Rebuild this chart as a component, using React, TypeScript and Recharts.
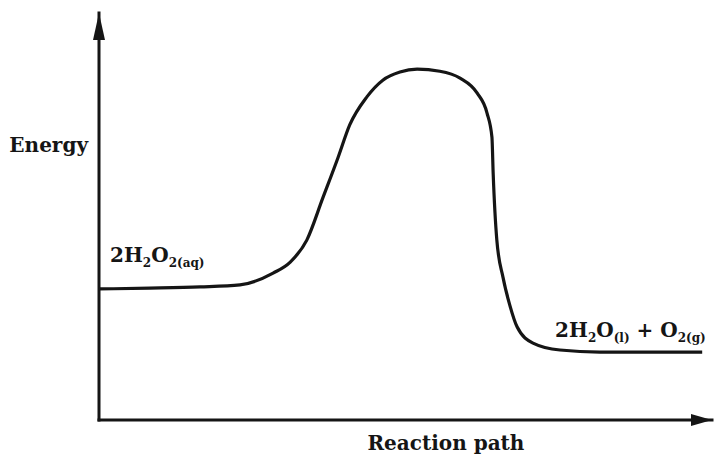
import { LineChart, Line, XAxis, YAxis, ReferenceDot, ReferenceLine } from "recharts";

// reaction progress (0-100) and energy (0-100)
const pathX = [
  0, 8.3, 16.5, 23.0, 28.4, 31.2, 33.9, 36.5, 39.0, 40.9, 43.7, 46.3,
  49.1, 51.9, 55.6, 58.9, 61.7, 63.3, 64.1, 64.3, 64.9, 65.9, 67.0, 68.2,
  70.8, 75.2, 81.7, 98.4,
];
const energyY = [
  32.2, 32.4, 32.7, 33.2, 36.1, 38.8, 44.2, 54.5, 64.5, 72.5, 79.4,
  83.5, 85.5, 86.2, 85.7, 84.0, 80.3, 75.4, 69.5, 60.7, 44.2, 35.1, 28.3,
  22.9, 18.9, 17.2, 16.7, 16.7,
];

const data = pathX.map((x, i) => ({ x, energy: energyY[i] }));

const INK = "#151515";
const FONT = "'DejaVu Serif', 'Liberation Serif', serif";

type Part = { t: string; sub?: boolean };

const reactant: Part[] = [
  { t: "2H" },
  { t: "2", sub: true },
  { t: "O" },
  { t: "2(aq)", sub: true },
];
const products: Part[] = [
  { t: "2H" },
  { t: "2", sub: true },
  { t: "O" },
  { t: "(l)", sub: true },
  { t: " + O" },
  { t: "2(g)", sub: true },
];

const Formula = ({ cx, cy, parts }: { cx?: number; cy?: number; parts: Part[] }) => {
  if (cx == null || cy == null) return null;
  return (
    <text x={cx} y={cy} fill={INK} fontFamily={FONT} fontWeight="bold" fontSize={20}>
      {parts.map((p, i) => {
        const prevSub = i > 0 && parts[i - 1].sub;
        const dy = p.sub ? 5 : prevSub ? -5 : 0;
        return (
          <tspan key={i} dy={dy} fontSize={p.sub ? 12 : 20} style={{ whiteSpace: "pre" }}>
            {p.t}
          </tspan>
        );
      })}
    </text>
  );
};

const Word = ({
  cx,
  cy,
  text,
  anchor,
  dx = 0,
}: {
  cx?: number;
  cy?: number;
  text: string;
  anchor: "start" | "middle" | "end";
  dx?: number;
}) => {
  if (cx == null || cy == null) return null;
  return (
    <text x={cx + dx} y={cy} textAnchor={anchor} fill={INK} fontFamily={FONT} fontWeight="bold" fontSize={20}>
      {text}
    </text>
  );
};

const UpArrow = ({ cx, cy }: { cx?: number; cy?: number }) => {
  if (cx == null || cy == null) return null;
  return <path d={`M${cx},${cy} L${cx - 6},${cy + 27} L${cx + 6},${cy + 27} Z`} fill={INK} />;
};

const RightArrow = ({ cx, cy }: { cx?: number; cy?: number }) => {
  if (cx == null || cy == null) return null;
  return <path d={`M${cx},${cy} L${cx - 21},${cy - 6} L${cx - 21},${cy + 6} Z`} fill={INK} />;
};

export default function App() {
  return (
    <div style={{ position: "absolute", left: 0, top: 0, width: 715, height: 464, background: "#fff" }}>
      <LineChart width={715} height={464} data={data} margin={{ top: 13, right: 3, left: 99, bottom: 44 }}>
        <XAxis dataKey="x" type="number" domain={[0, 100]} height={0} tick={false} tickLine={false} axisLine={false} />
        <YAxis type="number" domain={[0, 100]} width={0} tick={false} tickLine={false} axisLine={false} />
        {/* axes */}
        <ReferenceLine x={0} stroke={INK} strokeWidth={3} strokeLinecap="square" />
        <ReferenceLine y={0} stroke={INK} strokeWidth={3} strokeLinecap="square" />
        <Line
          type="monotone"
          dataKey="energy"
          stroke={INK}
          strokeWidth={3.2}
          dot={false}
          isAnimationActive={false}
        />
        <ReferenceDot x={0} y={100} r={0} ifOverflow="visible" shape={(p: any) => <UpArrow cx={p.cx} cy={p.cy} />} />
        <ReferenceDot x={100} y={0} r={0} ifOverflow="visible" shape={(p: any) => <RightArrow cx={p.cx} cy={p.cy} />} />
        <ReferenceDot
          x={0}
          y={65.8}
          r={0}
          ifOverflow="visible"
          shape={(p: any) => <Word cx={p.cx} cy={p.cy} text="Energy" anchor="end" dx={-11} />}
        />
        <ReferenceDot
          x={56.6}
          y={-7.4}
          r={0}
          ifOverflow="visible"
          shape={(p: any) => <Word cx={p.cx} cy={p.cy} text="Reaction path" anchor="middle" />}
        />
        <ReferenceDot
          x={1.8}
          y={38.8}
          r={0}
          ifOverflow="visible"
          shape={(p: any) => <Formula cx={p.cx} cy={p.cy} parts={reactant} />}
        />
        <ReferenceDot
          x={74.4}
          y={20.4}
          r={0}
          ifOverflow="visible"
          shape={(p: any) => <Formula cx={p.cx} cy={p.cy} parts={products} />}
        />
      </LineChart>
    </div>
  );
}
